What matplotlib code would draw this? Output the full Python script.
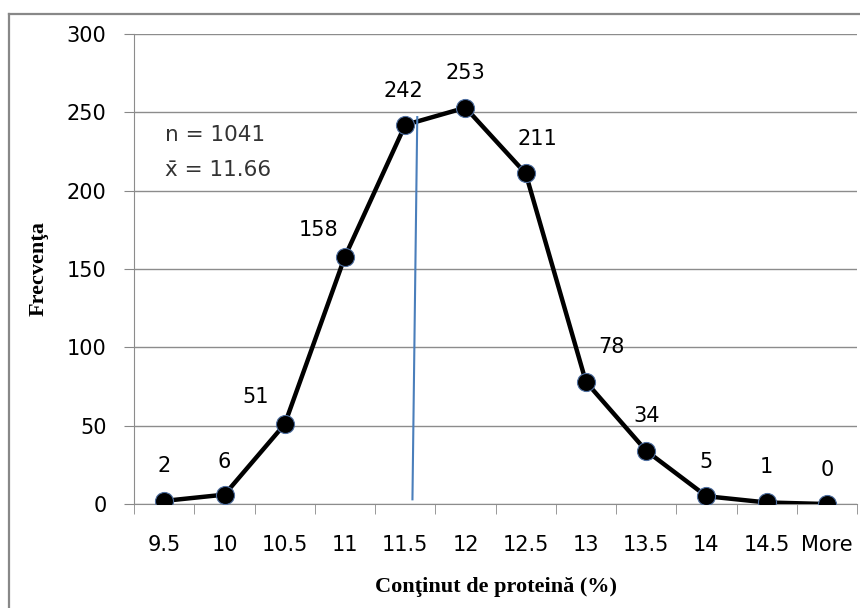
import matplotlib
matplotlib.use('Agg')
import matplotlib.pyplot as plt
from matplotlib.lines import Line2D
import numpy as np

# categories and frequencies
bins = ['9.5', '10', '10.5', '11', '11.5', '12', '12.5', '13', '13.5', '14', '14.5', 'More']
freq = [2, 6, 51, 158, 242, 253, 211, 78, 34, 5, 1, 0]
n_total = 1041
mean_val = 11.66
# mean marker line, in category-index units (top, bottom)
mean_line_x = [4.20, 4.12]
mean_line_y = [247, 3]

# label offsets in pixels (dx, dy)
label_off = [(0, 35), (0, 33), (-29, 27), (-26, 27), (-2, 34), (0, 35),
             (12, 34), (26, 35), (0, 35), (0, 34), (0, 35), (0, 34)]

fig = plt.figure(figsize=(8.6, 6.08), dpi=100)
ax = fig.add_axes([0.156, 0.171, 0.8405, 0.773])

x = np.arange(len(bins))
ax.plot(x, freq, color='black', lw=3.2, marker='o', ms=13,
        mfc='black', mec='#4f6fa0', mew=0.8, zorder=3)
ax.plot(mean_line_x, mean_line_y, color='#4a7ebb', lw=1.5, zorder=4)

for i, v in enumerate(freq):
    ax.annotate(str(v), (x[i], v), xytext=label_off[i], textcoords='offset pixels',
                ha='center', va='center', fontsize=15, family='DejaVu Sans')

ax.text(0.043, 0.785, 'n = %d' % n_total, transform=ax.transAxes, fontsize=15.5,
        family='DejaVu Sans', va='center', color='#333333')
ax.text(0.043, 0.71, 'x̄ = %.2f' % mean_val, transform=ax.transAxes, fontsize=15.5,
        family='DejaVu Sans', va='center', color='#333333')

ax.set_xlim(-0.5, len(bins) - 0.5)
ax.set_ylim(0, 300)
ax.set_yticks([0, 50, 100, 150, 200, 250, 300])
ax.set_xticks(x)
ax.set_xticklabels(bins)
ax.set_xticks(np.arange(-0.5, len(bins), 1), minor=True)
ax.tick_params(axis='x', which='major', length=0, pad=22, labelsize=15)
ax.tick_params(axis='x', which='minor', length=7, color='#888888', direction='out')
ax.tick_params(axis='y', length=7, color='#888888', pad=13, labelsize=15)
for lab in ax.get_xticklabels() + ax.get_yticklabels():
    lab.set_family('DejaVu Sans')

ax.grid(axis='y', color='#8c8c8c', lw=1)
ax.set_axisbelow(True)
for s in ['top', 'right']:
    ax.spines[s].set_visible(False)
ax.spines['left'].set_color('#8c8c8c')
ax.spines['bottom'].set_color('#8c8c8c')

ax.set_ylabel('Frecvenţa', family='Liberation Serif', fontweight='bold', fontsize=16, labelpad=13)
ax.set_xlabel('Conţinut de proteină (%)', family='Liberation Serif', fontweight='bold', fontsize=16, labelpad=16)

# outer chart frame
fig.add_artist(Line2D([9/860, 9/860], [0, 1 - 14/608], transform=fig.transFigure, color='#888888', lw=1.6))
fig.add_artist(Line2D([9/860, 1], [1 - 14/608, 1 - 14/608], transform=fig.transFigure, color='#888888', lw=1.6))

fig.savefig('out.png', dpi=100)
